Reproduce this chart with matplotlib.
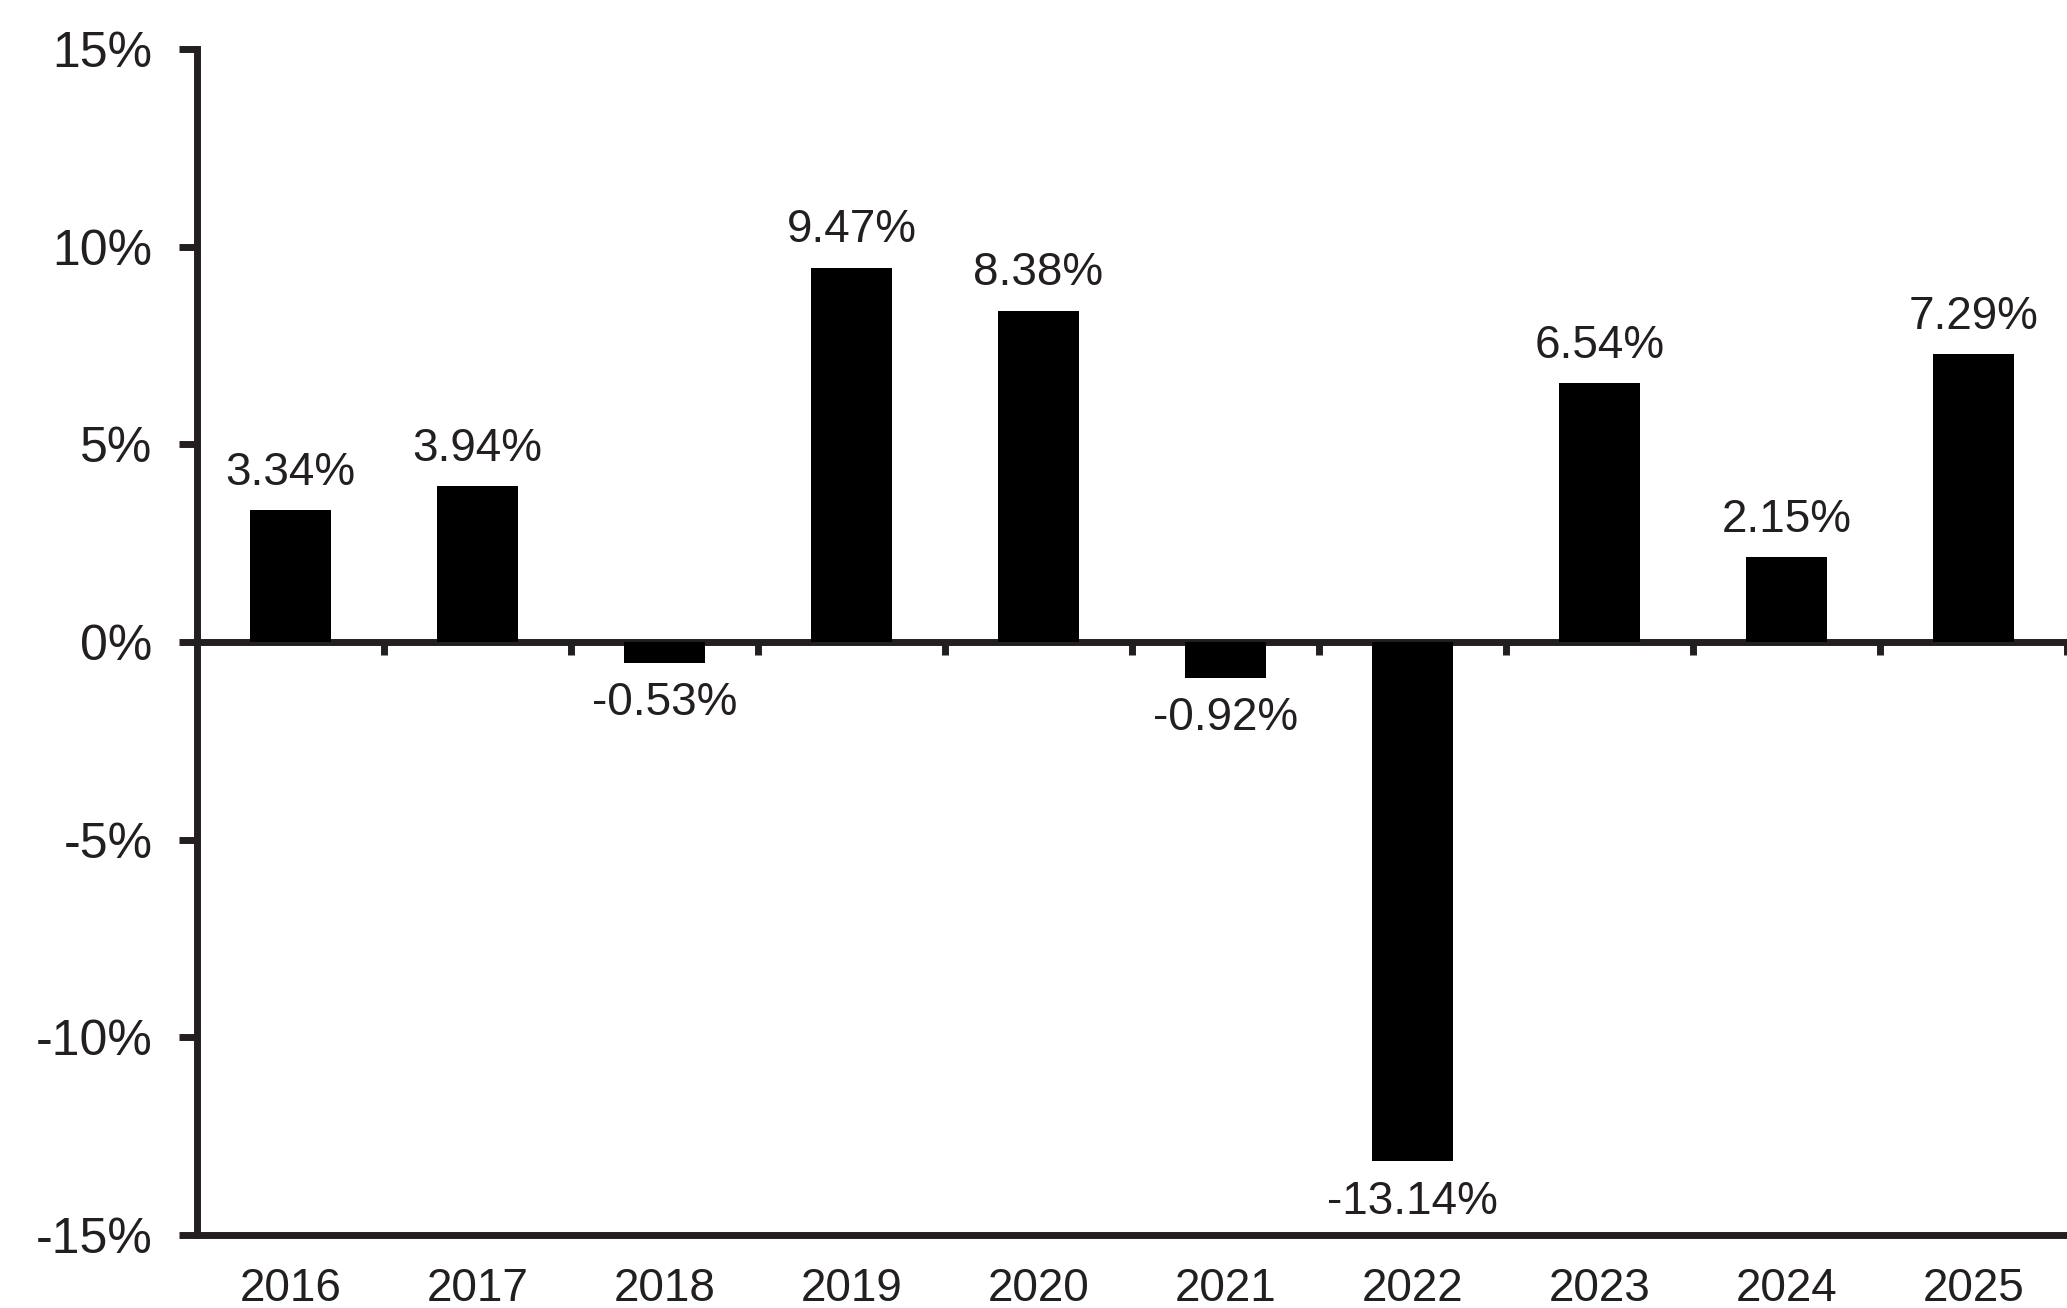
import matplotlib
matplotlib.use("Agg")
import matplotlib.pyplot as plt

years = ["2016", "2017", "2018", "2019", "2020", "2021", "2022", "2023", "2024", "2025"]
returns = [3.34, 3.94, -0.53, 9.47, 8.38, -0.92, -13.14, 6.54, 2.15, 7.29]
y_ticks = [-15, -10, -5, 0, 5, 10, 15]

ink = "#231f20"
plt.rcParams["font.family"] = ["Liberation Sans", "DejaVu Sans"]

fig = plt.figure(figsize=(20.67, 13.08), dpi=100)
ax = fig.add_axes([0.0953, 0.0558, 0.9047, 0.9067])

x = list(range(len(years)))
ax.bar(x, returns, width=0.43, color="black", zorder=2)

# value labels above / below each bar
for xi, v in zip(x, returns):
    if v >= 0:
        ax.annotate(f"{v:.2f}%", (xi, v), xytext=(0, 11), textcoords="offset points",
                    ha="center", va="bottom", fontsize=33, color=ink)
    else:
        ax.annotate(f"{v:.2f}%", (xi, v), xytext=(0, -13), textcoords="offset points",
                    ha="center", va="top", fontsize=33, color=ink)

ax.set_xlim(-0.5, len(years) - 0.5)
ax.set_ylim(-15, 15)
ax.set_yticks(y_ticks)
ax.set_yticklabels([f"{t}%" for t in y_ticks])
ax.set_xticks(x)
ax.set_xticklabels(years)

for s in ["top", "right"]:
    ax.spines[s].set_visible(False)
for s in ["left", "bottom"]:
    ax.spines[s].set_linewidth(5)
    ax.spines[s].set_color(ink)

ax.tick_params(axis="y", direction="out", length=13, width=5, color=ink,
               labelsize=36, labelcolor=ink, pad=19)
ax.tick_params(axis="x", length=0, labelsize=33, labelcolor=ink, pad=23)

# zero line with ticks between categories
zero_ax = ax.secondary_xaxis(0, transform=ax.transData)
zero_ax.set_xticks([i + 0.5 for i in x])
zero_ax.set_xticklabels([])
zero_ax.tick_params(direction="out", length=9.5, width=5, color=ink)
zero_ax.spines["bottom"].set_linewidth(5)
zero_ax.spines["bottom"].set_color(ink)

fig.savefig("out.png", dpi=100)
